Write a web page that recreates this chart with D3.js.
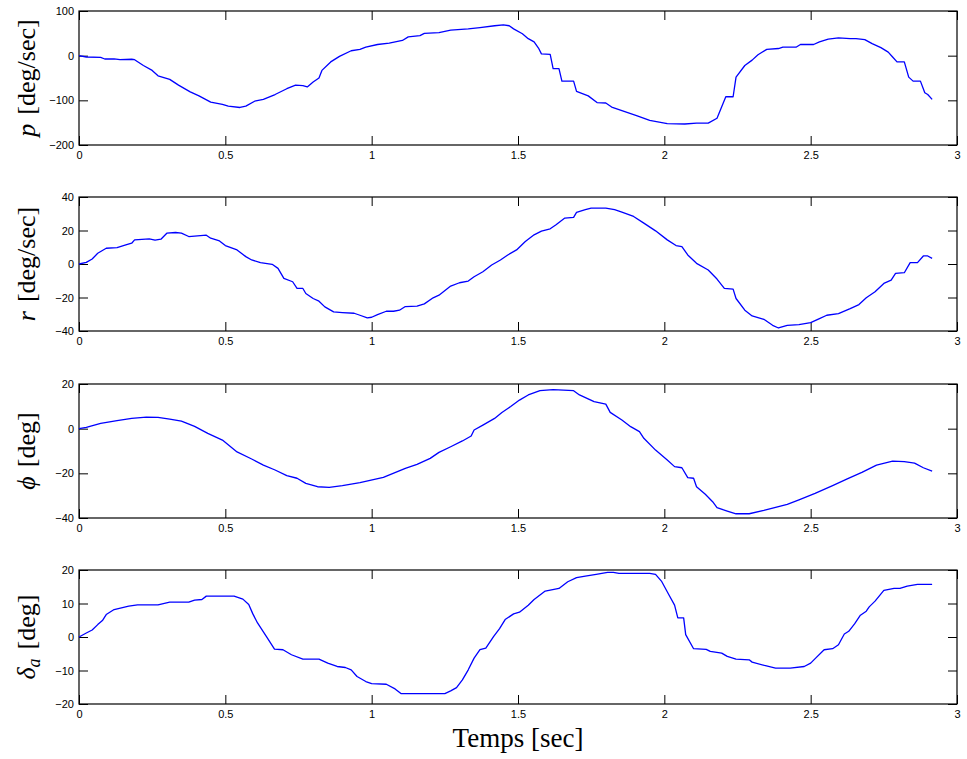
<!DOCTYPE html>
<html>
<head>
<meta charset="utf-8">
<script src="https://cdn.jsdelivr.net/npm/d3@7"></script>
<style>
  html, body { margin: 0; padding: 0; background: #fff; }
  svg { display: block; }
</style>
</head>
<body>
<div id="chart"></div>
<script>
// roll rate p [deg/sec] : [time, value]
const pData = [
  [0,0],[0.025,-3],[0.074,-4],[0.088,-7.5],[0.12,-7],[0.14,-9],[0.18,-8],[0.19,-9],
  [0.22,-22],[0.25,-33],[0.27,-45],[0.31,-53],[0.34,-66],[0.38,-81],[0.41,-90],[0.45,-104],
  [0.49,-109],[0.51,-113],[0.55,-116],[0.57,-113],[0.60,-102],[0.63,-98],[0.67,-87],[0.71,-74],
  [0.74,-66],[0.765,-67],[0.78,-70],[0.80,-59],[0.82,-50],[0.83,-33],[0.86,-14],[0.89,-1.5],
  [0.93,11],[0.96,14],[0.98,19],[1.02,25],[1.06,28],[1.105,34],[1.125,42],[1.165,45],
  [1.18,50],[1.23,51.5],[1.27,57],[1.33,60],[1.37,63],[1.42,67],[1.45,69],[1.47,67],
  [1.485,60],[1.515,49],[1.535,38],[1.555,31],[1.57,17],[1.58,4],[1.61,3],[1.62,-29],
  [1.64,-29],[1.65,-57],[1.69,-57],[1.70,-80],[1.74,-90],[1.77,-105],[1.80,-106],[1.82,-115],
  [1.855,-123],[1.905,-134],[1.95,-145],[2.01,-152],[2.07,-153],[2.11,-151],[2.15,-151],[2.18,-140],
  [2.21,-92],[2.235,-92],[2.245,-48],[2.275,-22],[2.30,-10],[2.32,2],[2.35,14],[2.39,16],
  [2.405,19],[2.45,19],[2.465,25],[2.51,25],[2.53,31],[2.56,37],[2.595,40],[2.635,38],
  [2.655,38],[2.685,36],[2.71,27],[2.74,18],[2.765,8],[2.78,-3],[2.795,-14],[2.82,-14],
  [2.835,-48],[2.85,-57],[2.875,-57],[2.89,-83],[2.90,-87],[2.915,-98]
];

// yaw rate r [deg/sec]
const rData = [
  [0,0],[0.025,1],[0.045,3],[0.064,6.4],[0.093,9.4],[0.13,9.8],[0.16,11.4],[0.18,12.4],
  [0.19,14.4],[0.24,15],[0.26,14.2],[0.28,14.8],[0.30,18.4],[0.33,18.8],[0.35,18.4],[0.375,16.4],
  [0.405,16.8],[0.435,17.2],[0.45,15.4],[0.48,13.8],[0.50,11],[0.54,8.4],[0.57,4.4],[0.59,2.4],
  [0.62,0.8],[0.66,-0.2],[0.68,-2.6],[0.70,-8.6],[0.73,-10.6],[0.745,-14.6],[0.765,-14.6],[0.775,-17.6],
  [0.80,-20.6],[0.82,-22.2],[0.84,-25.6],[0.87,-28.6],[0.90,-29],[0.94,-29.4],[0.96,-30.6],[0.985,-32.2],
  [1.0,-31.8],[1.02,-30.2],[1.05,-28.2],[1.075,-28.2],[1.095,-27.6],[1.115,-25.4],[1.155,-25.2],[1.18,-23.8],
  [1.21,-20.2],[1.23,-18.6],[1.27,-13.2],[1.30,-11.2],[1.33,-10.2],[1.35,-7.6],[1.38,-4.6],[1.41,-0.6],
  [1.44,2.4],[1.465,5.4],[1.495,8.4],[1.525,13.4],[1.555,17.4],[1.58,19.6],[1.61,21],[1.63,23.4],
  [1.66,27.4],[1.69,27.8],[1.70,30.8],[1.73,32.4],[1.75,33.4],[1.80,33.4],[1.83,32.4],[1.855,31],
  [1.895,28.4],[1.93,24.4],[1.97,19.8],[2.01,14.4],[2.04,11],[2.06,10.4],[2.08,5.4],[2.11,0.4],
  [2.15,-3.6],[2.18,-9],[2.205,-14.6],[2.235,-15],[2.245,-20.6],[2.275,-27.6],[2.30,-31],[2.34,-33],
  [2.37,-36.6],[2.39,-38.2],[2.42,-36.6],[2.46,-36.2],[2.50,-35],[2.53,-32.6],[2.555,-30.6],[2.595,-29.6],
  [2.635,-26.6],[2.665,-24.2],[2.69,-20.2],[2.72,-16.6],[2.75,-11.6],[2.775,-9.6],[2.79,-5.6],[2.82,-5.2],
  [2.84,0.8],[2.865,0.8],[2.885,4.8],[2.90,4.8],[2.915,3.4]
];

// roll angle phi [deg]
const phiData = [
  [0,0],[0.025,0.6],[0.074,2.4],[0.13,3.6],[0.18,4.6],[0.23,5.2],[0.27,5.1],[0.31,4.3],
  [0.35,3.4],[0.395,1],[0.44,-2.1],[0.49,-5.1],[0.54,-10.4],[0.59,-13.6],[0.63,-16.3],[0.67,-18.5],
  [0.71,-21],[0.745,-22.2],[0.775,-24.5],[0.815,-26],[0.855,-26.3],[0.90,-25.5],[0.96,-24.2],[1.04,-21.8],
  [1.115,-17.8],[1.155,-16],[1.20,-13.3],[1.23,-10.6],[1.27,-8.1],[1.31,-5.5],[1.34,-3.3],[1.35,-0.6],
  [1.38,1.6],[1.42,4.6],[1.445,7.2],[1.475,9.9],[1.505,12.8],[1.535,15.1],[1.575,17],[1.62,17.5],
  [1.69,17],[1.71,15.1],[1.76,12.1],[1.80,11],[1.815,7.3],[1.855,3.9],[1.885,0.9],[1.915,-1.3],
  [1.93,-4.3],[1.97,-9.6],[2.01,-14],[2.035,-17],[2.06,-17.5],[2.08,-21.9],[2.10,-22.2],[2.11,-26],
  [2.14,-29.4],[2.165,-32.7],[2.18,-35.4],[2.215,-36.9],[2.245,-38.1],[2.29,-38.1],[2.34,-36.6],[2.42,-33.9],
  [2.46,-31.9],[2.515,-29],[2.575,-25.5],[2.625,-22.5],[2.675,-19.6],[2.725,-16.3],[2.78,-14.5],[2.82,-14.8],
  [2.855,-15.4],[2.885,-17.5],[2.915,-19]
];

// aileron deflection delta_a [deg]
const deltaData = [
  [0,0],[0.025,1.2],[0.045,2.1],[0.064,3.7],[0.08,4.9],[0.093,6.7],[0.12,8.2],[0.17,9.2],
  [0.20,9.6],[0.27,9.6],[0.31,10.4],[0.375,10.4],[0.395,11],[0.42,11.2],[0.435,12.2],[0.53,12.2],
  [0.56,11.3],[0.58,9.7],[0.594,6.9],[0.61,4.2],[0.64,0.2],[0.668,-3.6],[0.697,-3.8],[0.726,-5.3],
  [0.765,-6.6],[0.82,-6.6],[0.85,-7.8],[0.882,-8.8],[0.91,-9.1],[0.93,-9.8],[0.95,-11.8],[0.98,-13.3],
  [1.0,-13.9],[1.05,-14.1],[1.08,-15.5],[1.10,-16.9],[1.25,-16.9],[1.27,-16.1],[1.29,-15.1],[1.31,-12.8],
  [1.33,-9.8],[1.35,-6.3],[1.37,-3.8],[1.39,-3.3],[1.417,0.2],[1.437,2.5],[1.456,5.2],[1.485,6.9],
  [1.505,7.4],[1.535,9.5],[1.555,11.2],[1.593,13.7],[1.64,14.5],[1.67,16.5],[1.70,17.7],[1.73,18.2],
  [1.767,18.7],[1.806,19.3],[1.826,19.3],[1.845,19],[1.95,19],[1.97,18.7],[1.99,16.7],[2.015,12.7],
  [2.035,9.5],[2.046,5.7],[2.066,5.7],[2.073,0.7],[2.10,-3.5],[2.143,-3.7],[2.157,-4.3],[2.196,-4.8],
  [2.215,-5.8],[2.245,-6.6],[2.29,-6.8],[2.30,-7.5],[2.342,-8.5],[2.38,-9.3],[2.43,-9.3],[2.478,-8.8],
  [2.50,-7.8],[2.517,-6.3],[2.546,-3.8],[2.575,-3.5],[2.595,-2.3],[2.615,0.9],[2.63,1.7],[2.65,3.9],
  [2.67,6.5],[2.69,7.7],[2.70,9],[2.72,10.7],[2.75,13.9],[2.785,14.5],[2.805,14.5],[2.83,15.2],
  [2.865,15.7],[2.915,15.7]
];

const xTicks = [0, 0.5, 1, 1.5, 2, 2.5, 3];
const xTickLabels = ['0', '0.5', '1', '1.5', '2', '2.5', '3'];
const xLabel = 'Temps [sec]';

const panels = [
  { data: pData,     domain: [-200, 100], ticks: [-200, -100, 0, 100],     sym: 'p', sub: null, unit: '[deg/sec]' },
  { data: rData,     domain: [-40, 40],   ticks: [-40, -20, 0, 20, 40],    sym: 'r', sub: null, unit: '[deg/sec]' },
  { data: phiData,   domain: [-40, 20],   ticks: [-40, -20, 0, 20],        sym: '\u03D5', sub: null, unit: '[deg]' },
  { data: deltaData, domain: [-20, 20],   ticks: [-20, -10, 0, 10, 20],    sym: '\u03B4', sub: 'a', unit: '[deg]' }
];

const width = 967, height = 759;
const left = 79, right = 957;
const panelTops = [11, 197, 384, 570];
const panelH = 134;
const tickLen = 9;

const svg = d3.select('#chart').append('svg')
  .attr('width', width)
  .attr('height', height);

const x = d3.scaleLinear().domain([0, 3]).range([left, right]);
const fmtY = d3.format('');

panels.forEach((pn, i) => {
  const top = panelTops[i], bottom = top + panelH;
  const y = d3.scaleLinear().domain(pn.domain).range([bottom, top]);
  const g = svg.append('g');

  // ticks on all four sides, pointing inward
  const axB = d3.axisBottom(x).tickValues(xTicks).tickSize(-tickLen).tickPadding(6)
    .tickFormat((d, k) => xTickLabels[k]);
  const axT = d3.axisTop(x).tickValues(xTicks).tickSize(-tickLen).tickFormat('');
  const axL = d3.axisLeft(y).tickValues(pn.ticks).tickSize(-tickLen).tickPadding(5)
    .tickFormat(d => fmtY(d));
  const axR = d3.axisRight(y).tickValues(pn.ticks).tickSize(-tickLen).tickFormat('');

  [[axB, `translate(0,${bottom})`], [axT, `translate(0,${top})`],
   [axL, `translate(${left},0)`], [axR, `translate(${right},0)`]].forEach(([ax, tr]) => {
    const a = g.append('g').attr('transform', tr).call(ax);
    a.select('.domain').remove();
    a.selectAll('line').attr('stroke', '#000').attr('stroke-width', 1);
    a.selectAll('text')
      .attr('font-family', "'Liberation Sans', Arial, Helvetica, sans-serif")
      .attr('font-size', '11px')
      .attr('fill', '#000');
  });

  // box
  g.append('rect')
    .attr('x', left).attr('y', top)
    .attr('width', right - left).attr('height', panelH)
    .attr('fill', 'none').attr('stroke', '#000').attr('stroke-width', 1.2);

  // series
  const line = d3.line().x(d => x(d[0])).y(d => y(d[1]));
  g.append('path')
    .datum(pn.data)
    .attr('d', line)
    .attr('fill', 'none')
    .attr('stroke', '#0000ff')
    .attr('stroke-width', 1.3)
    .attr('stroke-linejoin', 'round');

  // y label
  const lab = g.append('text')
    .attr('transform', `translate(35,${top + panelH / 2}) rotate(-90)`)
    .attr('text-anchor', 'middle')
    .attr('font-family', "'Liberation Serif', 'DejaVu Serif', serif")
    .attr('font-size', '26px')
    .attr('fill', '#000');
  lab.append('tspan').attr('font-style', 'italic').text(pn.sym);
  if (pn.sub) {
    lab.append('tspan').attr('font-style', 'italic').attr('font-size', '18px')
      .attr('dy', 5).text(pn.sub);
    lab.append('tspan').attr('dy', -5).attr('dx', 9).text(pn.unit);
  } else {
    lab.append('tspan').attr('dx', 9).text(pn.unit);
  }
});

// x label
svg.append('text')
  .attr('x', (left + right) / 2)
  .attr('y', 747)
  .attr('text-anchor', 'middle')
  .attr('font-family', "'Liberation Serif', 'DejaVu Serif', serif")
  .attr('font-size', '27px')
  .attr('fill', '#000')
  .text(xLabel);
</script>
</body>
</html>
